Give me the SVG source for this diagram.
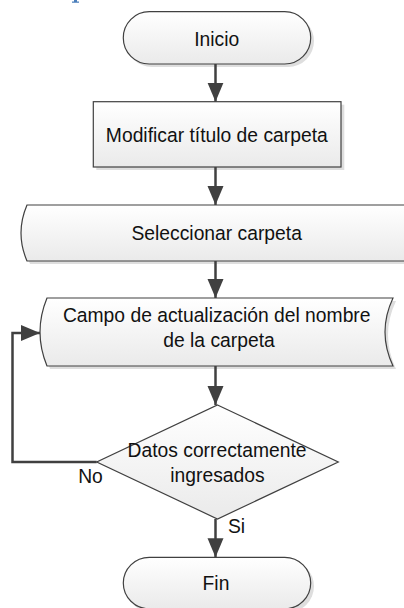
<svg xmlns="http://www.w3.org/2000/svg" width="404" height="608" viewBox="0 0 404 608">
<defs>
  <linearGradient id="g" x1="0" y1="0" x2="0" y2="1">
    <stop offset="0" stop-color="#ffffff"/>
    <stop offset="1" stop-color="#eaeaea"/>
  </linearGradient>
  <marker id="ah" markerUnits="userSpaceOnUse" markerWidth="20" markerHeight="20" viewBox="0 0 20 16" refX="19" refY="8" orient="auto">
    <path d="M0,0 L19,8 L0,16 Z" fill="#404040"/>
  </marker>
  <style>
    .shape{fill:url(#g);stroke:#404040;stroke-width:1.2}
    .shadow{fill:#dedede;stroke:none}
    .conn{fill:none;stroke:#404040;stroke-width:2.5;marker-end:url(#ah)}
    text{font-family:"Liberation Sans",Arial,sans-serif;font-size:19.3px;fill:#111;text-anchor:middle}
  </style>
</defs>
<rect x="0" y="0" width="404" height="608" fill="#ffffff"/>
<path d="M74,0 h3 v1.5 h2 v1.2 h-7 v-1.2 h2 Z" fill="#4a7ebb"/>

<g id="inicio">
  <rect class="shadow" x="126" y="15" width="188" height="52" rx="26" ry="26"/>
  <rect class="shape" x="123.3" y="11.7" width="187.4" height="52.3" rx="26" ry="26"/>
  <text x="216.7" y="45.7">Inicio</text>
</g>

<g id="modificar">
  <rect class="shadow" x="96.3" y="104.7" width="248" height="65.3"/>
  <rect class="shape" x="93.3" y="101.7" width="247.7" height="65.3"/>
  <text x="216.8" y="141.7">Modificar título de carpeta</text>
</g>

<g id="seleccionar">
  <path class="shadow" d="M30,208 L410,208 L410,264 L30,264 Q18,236 30,208 Z"/>
  <path class="shape" d="M27,205 L410,205 L410,261 L27,261 Q15,233 27,205 Z"/>
  <text x="216.7" y="240">Seleccionar carpeta</text>
</g>

<g id="campo">
  <path class="shadow" d="M50,301 L396,301 Q380,335 396,369 L50,369 Q36,335 50,301 Z"/>
  <path class="shape" d="M47,298 L393,298 Q377,332 393,366 L47,366 Q33,332 47,298 Z"/>
  <text x="216.7" y="321.7">Campo de actualización del nombre</text>
  <text x="219" y="347">de la carpeta</text>
</g>

<g id="decision">
  <path class="shape" d="M217.5,405 L338.3,462 L217.5,519 L96.7,462 Z"/>
  <text x="217" y="456.7">Datos correctamente</text>
  <text x="217.5" y="481.7">ingresados</text>
</g>

<g id="fin">
  <rect class="shadow" x="126" y="560.3" width="188" height="52" rx="26" ry="26"/>
  <rect class="shape" x="123.3" y="557.3" width="187.4" height="51.5" rx="26" ry="26"/>
  <text x="216" y="590">Fin</text>
</g>

<g id="connectors">
  <line class="conn" x1="215.5" y1="64" x2="215.5" y2="101.7"/>
  <line class="conn" x1="215.5" y1="167" x2="215.5" y2="205"/>
  <line class="conn" x1="215.5" y1="261" x2="215.5" y2="298"/>
  <line class="conn" x1="215.5" y1="366" x2="215.5" y2="405"/>
  <line class="conn" x1="215.5" y1="519" x2="215.5" y2="557.3"/>
  <path class="conn" d="M96.7,462 L12.5,462 L12.5,333 L40,333"/>
  <text x="90.5" y="483.3">No</text>
  <text x="236.5" y="533.3">Si</text>
</g>
</svg>
